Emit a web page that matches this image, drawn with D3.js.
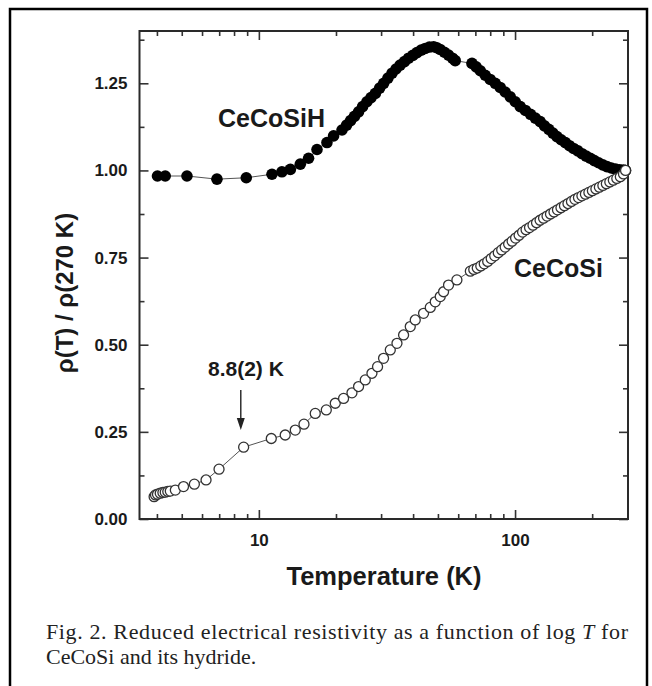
<!DOCTYPE html>
<html lang="en">
<head>
<meta charset="utf-8">
<script src="https://d3js.org/d3.v7.min.js"></script>
<style>
  body { margin: 0; background: #fff; }
  svg text { fill: #1a1a1a; }
</style>
</head>
<body>
<script>
// CeCoSiH (filled circles)
var hydT = [4.02, 4.31, 5.24, 6.86, 8.93, 11.25, 12.3, 13.27, 14.51, 15.63, 16.86, 18.44, 19.57, 21.11,
  22.0, 22.8, 23.6, 24.5, 25.4, 26.4, 27.4, 28.5, 29.6, 30.7, 31.9, 33.1, 34.3, 35.6, 37.0, 38.4, 39.9,
  41.4, 43.0, 44.6, 46.3, 48.1, 49.5, 51.0, 53.0, 55.0, 57.0, 58.4,
  67.9, 70.5, 73.2, 76.5, 80.0, 83.7, 87.5, 91.5, 95.8, 100.2, 104.8, 109.8, 114.9, 120.0, 125.4, 130.3,
  135.4, 140.5, 145.7, 151.3, 157.2, 163.1, 169.2, 175.9, 182.6, 189.5, 196.6, 204.0, 211.9, 220.0,
  228.4, 237.5, 246.8, 256.0, 265.0, 270];
var hydR = [0.984, 0.984, 0.984, 0.975, 0.979, 0.989, 0.996, 1.003, 1.018, 1.035, 1.060, 1.080, 1.099, 1.116,
  1.130, 1.143, 1.155, 1.168, 1.183, 1.197, 1.209, 1.221, 1.236, 1.250, 1.265, 1.279, 1.291, 1.302, 1.312, 1.322, 1.330,
  1.338, 1.345, 1.350, 1.354, 1.355, 1.352, 1.347, 1.339, 1.331, 1.322, 1.315,
  1.307, 1.297, 1.286, 1.273, 1.261, 1.250, 1.238, 1.225, 1.211, 1.197, 1.183, 1.172, 1.161, 1.150, 1.140, 1.128,
  1.118, 1.107, 1.097, 1.088, 1.080, 1.071, 1.063, 1.056, 1.048, 1.041, 1.035, 1.028, 1.022, 1.016,
  1.011, 1.007, 1.004, 1.002, 1.001, 1.000];

// CeCoSi (open circles)
var cosT = [3.90, 3.95, 4.02, 4.12, 4.22, 4.31, 4.41, 4.51, 4.72, 5.08, 5.60, 6.22, 6.99, 8.72, 11.18, 12.67,
  13.87, 15.0, 16.6, 18.33, 19.87, 21.41, 23.09, 24.5, 26.02, 27.63, 29.06, 30.67, 32.58, 34.6, 36.72,
  38.99, 40.78, 43.95, 46.67, 48.8, 51.05, 52.6, 55.0, 59.3,
  66.9, 69.0, 71.2, 73.5, 75.8, 78.2, 80.7, 83.3, 86.0, 88.7, 91.5, 94.4, 97.4, 100.5, 103.7, 107.0,
  110.4, 113.9, 117.5, 121.3, 125.2, 129.2, 133.3, 137.5, 141.9, 146.4, 151.1, 155.9, 160.9, 166.0,
  171.3, 176.8, 182.4, 188.2, 194.2, 200.4, 206.8, 213.4, 220.2, 227.2, 234.4, 241.9, 249.6, 257.6, 265.0, 270];
var cosR = [0.064, 0.069, 0.071, 0.074, 0.076, 0.077, 0.079, 0.080, 0.083, 0.093, 0.100, 0.112, 0.143, 0.206, 0.231, 0.241,
  0.255, 0.272, 0.303, 0.313, 0.332, 0.346, 0.362, 0.380, 0.399, 0.418, 0.437, 0.461, 0.485, 0.504, 0.528,
  0.552, 0.571, 0.590, 0.607, 0.623, 0.638, 0.652, 0.671, 0.686,
  0.711, 0.716, 0.720, 0.726, 0.732, 0.739, 0.747, 0.755, 0.764, 0.772, 0.780, 0.789, 0.797, 0.806, 0.814, 0.823,
  0.830, 0.836, 0.843, 0.850, 0.857, 0.863, 0.869, 0.875, 0.881, 0.887, 0.893, 0.899, 0.905, 0.911,
  0.917, 0.922, 0.927, 0.932, 0.937, 0.942, 0.947, 0.952, 0.957, 0.962, 0.967, 0.972, 0.977, 0.982, 0.990, 1.000];

var xMajor = [10, 100];
var xMinor = [4, 5, 6, 7, 8, 9, 20, 30, 40, 50, 60, 70, 80, 90, 200];
var yMajor = [0, 0.25, 0.5, 0.75, 1.0, 1.25];
var yMinor = [0.125, 0.375, 0.625, 0.875, 1.125, 1.375];

var w = 652, h = 686;
var svg = d3.select("body").append("svg").attr("width", w).attr("height", h);

// outer figure frame
svg.append("path")
  .attr("d", "M10,686 L10,9 L647,9 L647,686")
  .attr("fill", "none").attr("stroke", "#000").attr("stroke-width", 2.5);

var pL = 139.5, pR = 628, pT = 31, pB = 519;
var x = d3.scaleLog().domain([3.42, 276]).range([pL, pR]);
var y = d3.scaleLinear().domain([0, 1.4]).range([pB, pT]);

var tickFont = "bold 17px 'Liberation Sans', Arial, sans-serif";

function styleAxis(g) {
  g.select(".domain").remove();
  g.selectAll("line").attr("stroke", "#333").attr("stroke-width", 1.6);
  g.selectAll("text").style("font", tickFont).attr("fill", "#1a1a1a");
}

// bottom
svg.append("g").attr("transform", "translate(0," + pB + ")")
  .call(d3.axisBottom(x).tickValues(xMajor).tickSize(-9).tickPadding(15).tickFormat(d3.format("d")))
  .call(styleAxis);
svg.append("g").attr("transform", "translate(0," + pB + ")")
  .call(d3.axisBottom(x).tickValues(xMinor).tickSize(-5).tickFormat(""))
  .call(styleAxis);
// top
svg.append("g").attr("transform", "translate(0," + pT + ")")
  .call(d3.axisTop(x).tickValues(xMajor).tickSize(-9).tickFormat(""))
  .call(styleAxis);
svg.append("g").attr("transform", "translate(0," + pT + ")")
  .call(d3.axisTop(x).tickValues(xMinor).tickSize(-5).tickFormat(""))
  .call(styleAxis);
// left
svg.append("g").attr("transform", "translate(" + pL + ",0)")
  .call(d3.axisLeft(y).tickValues(yMajor).tickSize(-9).tickPadding(12).tickFormat(d3.format(".2f")))
  .call(styleAxis);
svg.append("g").attr("transform", "translate(" + pL + ",0)")
  .call(d3.axisLeft(y).tickValues(yMinor).tickSize(-5).tickFormat(""))
  .call(styleAxis);
// right
svg.append("g").attr("transform", "translate(" + pR + ",0)")
  .call(d3.axisRight(y).tickValues(yMajor).tickSize(-9).tickFormat(""))
  .call(styleAxis);
svg.append("g").attr("transform", "translate(" + pR + ",0)")
  .call(d3.axisRight(y).tickValues(yMinor).tickSize(-5).tickFormat(""))
  .call(styleAxis);

// plot frame
svg.append("rect")
  .attr("x", pL).attr("y", pT).attr("width", pR - pL).attr("height", pB - pT)
  .attr("fill", "none").attr("stroke", "#2a2a2a").attr("stroke-width", 2);

var line = d3.line().x(function(d){ return x(d[0]); }).y(function(d){ return y(d[1]); });

var hyd = hydT.map(function(t, i){ return [t, hydR[i]]; });
var cos = cosT.map(function(t, i){ return [t, cosR[i]]; });

svg.append("path").datum(hyd).attr("d", line)
  .attr("fill", "none").attr("stroke", "#555").attr("stroke-width", 1);
svg.selectAll(".hyd").data(hyd).enter().append("circle")
  .attr("class", "hyd")
  .attr("cx", function(d){ return x(d[0]); })
  .attr("cy", function(d){ return y(d[1]); })
  .attr("r", 5.8).attr("fill", "#000");

svg.append("path").datum(cos).attr("d", line)
  .attr("fill", "none").attr("stroke", "#555").attr("stroke-width", 1);
svg.selectAll(".cos").data(cos).enter().append("circle")
  .attr("class", "cos")
  .attr("cx", function(d){ return x(d[0]); })
  .attr("cy", function(d){ return y(d[1]); })
  .attr("r", 5).attr("fill", "#fff").attr("stroke", "#333").attr("stroke-width", 1.3);

// labels
var bold = "'Liberation Sans', Arial, sans-serif";
svg.append("text").attr("x", 218).attr("y", 127)
  .style("font-family", bold).style("font-weight", "bold").style("font-size", "25px")
  .text("CeCoSiH");
svg.append("text").attr("x", 514).attr("y", 277)
  .style("font-family", bold).style("font-weight", "bold").style("font-size", "25px")
  .text("CeCoSi");
svg.append("text").attr("x", 208).attr("y", 375.5)
  .style("font-family", bold).style("font-weight", "bold").style("font-size", "21px")
  .text("8.8(2) K");

// arrow at the transition
var arrowT = 8.5;
svg.append("line")
  .attr("x1", x(arrowT)).attr("x2", x(arrowT)).attr("y1", 390).attr("y2", 420)
  .attr("stroke", "#222").attr("stroke-width", 1.4);
svg.append("path")
  .attr("d", "M" + (x(arrowT) - 4) + ",418 L" + (x(arrowT) + 4) + ",418 L" + x(arrowT) + ",430 Z")
  .attr("fill", "#222");

svg.append("text").attr("x", 384).attr("y", 585)
  .attr("text-anchor", "middle")
  .style("font-family", bold).style("font-weight", "bold").style("font-size", "25.5px")
  .text("Temperature (K)");

svg.append("text")
  .attr("transform", "translate(73,293) rotate(-90)")
  .attr("text-anchor", "middle")
  .style("font-family", bold).style("font-weight", "bold").style("font-size", "24px")
  .text("ρ(T) / ρ(270 K)");

// caption
var serif = "'Liberation Serif', 'Times New Roman', serif";
var cap1 = svg.append("text").attr("x", 46).attr("y", 639)
  .attr("textLength", 582).attr("lengthAdjust", "spacing")
  .style("font-family", serif).style("font-size", "22px").style("fill", "#222");
cap1.append("tspan").text("Fig. 2. Reduced electrical resistivity as a function of log ");
cap1.append("tspan").style("font-style", "italic").text("T");
cap1.append("tspan").text(" for");
svg.append("text").attr("x", 46).attr("y", 664)
  .style("font-family", serif).style("font-size", "22px").style("fill", "#222")
  .text("CeCoSi and its hydride.");
</script>
</body>
</html>
